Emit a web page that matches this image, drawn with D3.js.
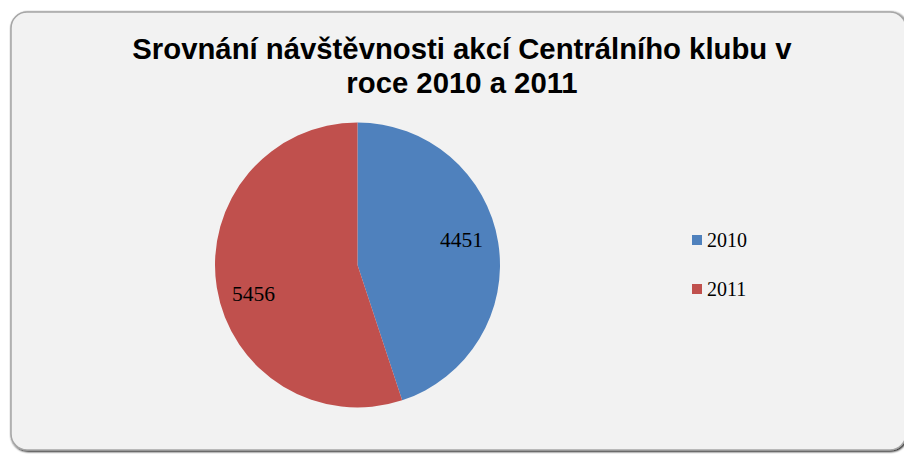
<!DOCTYPE html>
<html><head><meta charset="utf-8">
<script src="https://cdn.jsdelivr.net/npm/d3@7"></script>
<style>html,body{margin:0;padding:0;background:#fff;}</style>
</head><body>
<svg id="c" width="904" height="455"></svg>
<script>
const categories = ["2010", "2011"];
const values = [4451, 5456];
const colors = ["#4F81BD", "#C0504D"];
const titleLines = ["Srovnání návštěvnosti akcí Centrálního klubu v", "roce 2010 a 2011"];

const svg = d3.select("#c");
const defs = svg.append("defs");
const f = defs.append("filter").attr("id","sh").attr("x","-5%").attr("y","-5%").attr("width","110%").attr("height","110%");
f.append("feGaussianBlur").attr("in","SourceAlpha").attr("stdDeviation",1.2);
f.append("feOffset").attr("dx",1).attr("dy",1).attr("result","b");
const m = f.append("feMerge"); m.append("feMergeNode").attr("in","b"); m.append("feMergeNode").attr("in","SourceGraphic");

svg.append("rect").attr("x",11).attr("y",12).attr("width",895).attr("height",438)
  .attr("rx",16).attr("ry",16).attr("fill","#f2f2f2").attr("stroke","#a6a6a6").attr("stroke-width",1.5)
  .attr("filter","url(#sh)");

const title = svg.append("text").attr("text-anchor","middle")
  .attr("font-family","'Liberation Sans', Arial, sans-serif").attr("font-weight","bold")
  .attr("font-size",29.3).attr("fill","#000");
titleLines.forEach((t,i)=>title.append("tspan").attr("x",462).attr("y",58.5+i*34).text(t));

const cx = 357.5, cy = 265, r = 142.5;
const pie = d3.pie().sort(null).value(d=>d);
const arcs = pie(values);
const arc = d3.arc().innerRadius(0).outerRadius(r);
const labelArc = d3.arc().innerRadius(r*0.74).outerRadius(r*0.74);
const g = svg.append("g").attr("transform",`translate(${cx},${cy})`);
g.selectAll("path").data(arcs).join("path").attr("d",arc).attr("fill",(d,i)=>colors[i]);
g.selectAll("text").data(arcs).join("text")
  .attr("transform",d=>{const c=labelArc.centroid(d);return `translate(${c[0]},${c[1]})`;})
  .attr("text-anchor","middle").attr("dy",(d,i)=> i===0 ? "-0.05em" : "0.9em")
  .attr("font-family","'Liberation Serif','Times New Roman',serif").attr("font-size",21.5)
  .attr("fill","#000").text(d=>d.data);

const leg = svg.append("g");
const ly = d3.scalePoint().domain(categories).range([240,289]);
categories.forEach((c,i)=>{
  leg.append("rect").attr("x",692).attr("y",ly(c)-5).attr("width",10).attr("height",10).attr("fill",colors[i]);
  leg.append("text").attr("x",707).attr("y",ly(c)+6.5)
    .attr("font-family","'Liberation Serif','Times New Roman',serif").attr("font-size",20)
    .attr("fill","#000").text(c);
});
</script>
</body></html>
